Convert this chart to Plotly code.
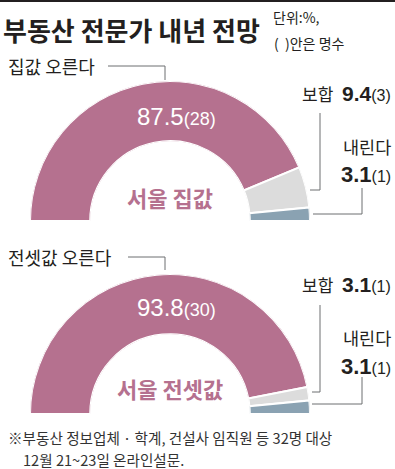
import plotly.graph_objects as go
import numpy as np

W, H = 395, 469

categories = ["오른다", "보합", "내린다"]
house_pct = [87.5, 9.4, 3.1]
house_n = [28, 3, 1]
jeonse_pct = [93.8, 3.1, 3.1]
jeonse_n = [30, 1, 1]
colors = ["#b5718f", "#dcdcdc", "#8aa2b2"]

KR = "Noto Sans CJK KR"
NUM = "Liberation Sans Narrow, Arial Narrow, Liberation Sans, sans-serif"
TXT = "#231f20"
LINE = "#6d6e70"


def px(x):
    return x / W


def py(y):
    return 1 - y / H


fig = go.Figure()


def add_donut(vals, polar_name):
    v = np.array(vals, dtype=float)
    widths = v * 1.8
    centers = np.cumsum(widths) - widths / 2
    fig.add_trace(go.Barpolar(
        r=[1] * len(v), theta=centers, width=widths, base=0,
        marker=dict(color=colors, line=dict(color="white", width=2)),
        subplot=polar_name, hoverinfo="skip", showlegend=False))


add_donut(house_pct, "polar")
add_donut(jeonse_pct, "polar2")

polar_common = dict(
    sector=[0, 180], hole=0.57, bgcolor="rgba(0,0,0,0)",
    radialaxis=dict(visible=False, range=[0, 1]),
    angularaxis=dict(visible=False, rotation=180, direction="clockwise"),
)
fig.update_layout(
    polar=dict(domain=dict(x=[px(30), px(310)], y=[py(221), py(81)]), **polar_common),
    polar2=dict(domain=dict(x=[px(30), px(310)], y=[py(414), py(274)]), **polar_common),
)

ann = []
shapes = []


def text(x, y, t, size, color=TXT, family=KR, anchor="left", yanchor="middle"):
    ann.append(dict(x=px(x), y=py(y), xref="paper", yref="paper", text=t,
                    showarrow=False, xanchor=anchor, yanchor=yanchor,
                    font=dict(size=size, color=color, family=family)))


def line(pts):
    path = "M " + " L ".join(f"{px(a)},{py(b)}" for a, b in pts)
    shapes.append(dict(type="path", path=path, xref="paper", yref="paper",
                       line=dict(color=LINE, width=1)))


# top rule
shapes.append(dict(type="line", x0=0, x1=1, y0=py(1), y1=py(1), xref="paper",
                   yref="paper", line=dict(color="#231f20", width=2)))

# title
text(1, 29, "<b>부동산 전문가 내년 전망</b>", 26)
text(271, 17, "단위:%,", 14)
text(272, 43, "(  )안은 명수", 14)


def num_label(pct, n, big=21, small=16, bold=True):
    p = f"<b>{pct}</b>" if bold else f"{pct}"
    return f"<span style='font-size:{big}px'>{p}</span><span style='font-size:{small}px'>({n})</span>"


def block(top, pct, n, main_label, center_label):
    text(6, top + 26, f"{main_label} 오른다", 18)
    text(176, top + 76, num_label(pct[0], n[0], 24, 18, False), 22,
         color="white", family=NUM, anchor="center")
    text(170, top + 157, f"<b>{center_label}</b>", 22, color=colors[0], anchor="center")
    text(300, top + 53, "보합", 17)
    text(393, top + 53, num_label(pct[1], n[1], 21, 16), 21, family=NUM, anchor="right")
    text(393, top + 106, "내린다", 17.5, anchor="right")
    text(393, top + 135, num_label(pct[2], n[2], 22, 16), 22, family=NUM, anchor="right")


block(40, house_pct, house_n, "집값", "서울 집값")
line([(108, 66), (165, 66), (165, 80)])
line([(320, 113), (320, 190), (310, 190)])
line([(362, 188), (362, 214), (313, 214)])

block(231, jeonse_pct, jeonse_n, "전셋값", "서울 전셋값")
line([(128, 257), (165, 257), (165, 270)])
line([(320, 305), (320, 392), (312, 392)])
line([(362, 377), (362, 404), (312, 404)])

# footnote
text(6, 437, "※부동산 정보업체 · 학계, 건설사 임직원 등 32명 대상", 14.6, color="#333333")
text(21, 459, "12월 21~23일 온라인설문.", 14.6, color="#333333")

fig.update_layout(
    width=W, height=H, margin=dict(l=0, r=0, t=0, b=0),
    paper_bgcolor="white", plot_bgcolor="white",
    annotations=ann, shapes=shapes, showlegend=False,
)
fig.write_html("out.html", config={"displayModeBar": False},
               post_script="document.body.style.margin='0';document.body.style.overflow='hidden';")
